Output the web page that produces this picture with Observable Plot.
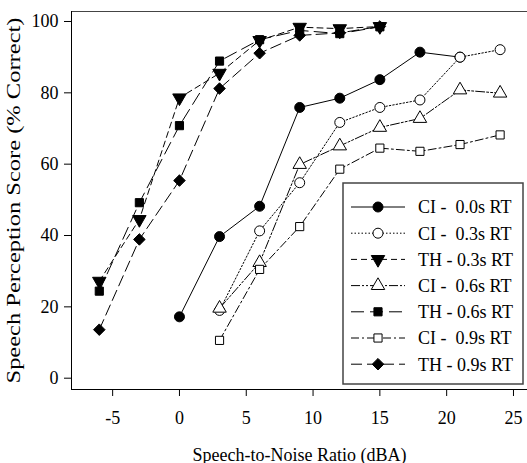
<!DOCTYPE html>
<html><head><meta charset="utf-8">
<script src="https://cdn.jsdelivr.net/npm/d3@7"></script>
<script src="https://cdn.jsdelivr.net/npm/@observablehq/plot@0.6"></script>
<style>
body{margin:0;background:#fff}
</style>
</head><body><div id="chart"></div>
<script>
// ---- data ----
const seriesNames = ["CI -  0.0s RT","CI -  0.3s RT","TH - 0.3s RT","CI -  0.6s RT","TH - 0.6s RT","CI -  0.9s RT","TH - 0.9s RT"];
const snrCI00 = [0,3,6,9,12,15,18,21];
const scoreCI00 = [17.2,39.7,48.2,75.9,78.5,83.7,91.4,90.0];
const snrCI = [3,6,9,12,15,18,21,24];
const scoreCI03 = [19.0,41.3,54.8,71.7,75.9,78.0,90.0,92.1];
const scoreCI06 = [19.6,32.4,59.9,65.1,70.3,72.8,80.8,79.9];
const scoreCI09 = [10.6,30.5,42.5,58.6,64.5,63.6,65.5,68.2];
const snrTH = [-6,-3,0,3,6,9,12,15];
const scoreTH03 = [27.2,44.5,78.6,85.5,94.7,98.4,98.0,98.6];
const scoreTH06 = [24.4,49.2,70.8,88.9,94.9,97.5,96.6,98.5];
const scoreTH09 = [13.6,38.9,55.4,81.2,91.1,96.1,96.8,98.6];
const xTicks = [-5,0,5,10,15,20,25];
const yTicks = [0,20,40,60,80,100];
const xLabel = "Speech-to-Noise Ratio (dBA)";
const yLabel = "Speech Perception Score (% Correct)";

// ---- styles ----
const styles = [
  {dash:null, symbol:"circle", fill:"black", rotate:0, r:5},
  {dash:"1.5,2", symbol:"circle", fill:"white", rotate:0, r:5},
  {dash:"6,4", symbol:"triangle", fill:"black", rotate:180, r:5},
  {dash:"9,2,2,2,2,2", symbol:"triangle", fill:"white", rotate:0, r:5},
  {dash:"13,6", symbol:"square", fill:"black", rotate:0, r:4.6},
  {dash:"8,3,2,3", symbol:"square", fill:"white", rotate:0, r:4.6},
  {dash:"11,5", symbol:"diamond2", fill:"black", rotate:0, r:5.2}
];
const xsList = [snrCI00, snrCI, snrTH, snrCI, snrTH, snrCI, snrTH];
const ysList = [scoreCI00, scoreCI03, scoreTH03, scoreCI06, scoreTH06, scoreCI09, scoreTH09];
const series = seriesNames.map((name,i)=>({name, style:styles[i], rows: xsList[i].map((x,j)=>({x, y: ysList[i][j]}))}));

const marks = [];
for (const s of series) marks.push(Plot.line(s.rows, {x:"x", y:"y", stroke:"black", strokeWidth:1, strokeDasharray:s.style.dash}));
for (const s of series) marks.push(Plot.dot(s.rows, {x:"x", y:"y", symbol:()=>s.style.symbol, r:s.style.r, fill:s.style.fill, stroke:"black", strokeWidth:1, rotate:s.style.rotate}));

const FONT = "'Liberation Serif','Times New Roman',serif";
const plot = Plot.plot({
  width: 527, height: 463,
  marginLeft: 71, marginTop: 11, marginBottom: 74, marginRight: 0,
  x: {domain:[-8.08, 26.05]},
  y: {domain:[-3.17, 102.8]},
  symbol: {type:"identity"},
  marks: [
    Plot.frame({anchor:"top", stroke:"#444"}),
    Plot.frame({anchor:"left", stroke:"black"}),
    Plot.frame({anchor:"bottom", stroke:"black"}),
    Plot.axisX({ticks:xTicks, tickSize:7, tickPadding:15, tickFormat:d=>String(d), label:xLabel, labelAnchor:"center", labelArrow:"none", labelOffset:71}),
    Plot.axisY({ticks:yTicks, tickSize:7, tickPadding:6, label:yLabel, labelAnchor:"center", labelArrow:"none", labelOffset:64}),
    ...marks
  ]
});
document.getElementById("chart").appendChild(plot);
const svg = d3.select(plot);

// ---- legend, drawn inside the plot area ----
const lg = svg.append("g").attr("class","legend").attr("text-anchor","start");
const box = {x:343, y:183, w:180, h:201};
lg.append("rect").attr("x",box.x).attr("y",box.y).attr("width",box.w).attr("height",box.h)
  .attr("fill","white").attr("stroke","#444").attr("stroke-width",1.5);
const symMap = {circle:d3.symbolCircle, triangle:d3.symbolTriangle, square:d3.symbolSquare, diamond2:d3.symbolDiamond2};
series.forEach((s,i)=>{
  const cy = box.y + 24 + i*26.2;
  lg.append("line").attr("x1",box.x+8).attr("x2",box.x+62).attr("y1",cy).attr("y2",cy)
    .attr("stroke","black").attr("stroke-width",1).attr("stroke-dasharray",s.style.dash);
  lg.append("path").attr("d", d3.symbol(symMap[s.style.symbol], Math.PI*s.style.r*s.style.r)())
    .attr("transform",`translate(${box.x+35},${cy}) rotate(${s.style.rotate})`)
    .attr("fill",s.style.fill).attr("stroke","black");
  lg.append("text").attr("x",box.x+75).attr("y",cy).attr("dy","0.35em")
    .style("white-space","pre").text(s.name);
});
svg.selectAll("text").attr("font-family", FONT).style("font-family", FONT).attr("font-size", 18).style("font-size","18px");
svg.select('g[aria-label="y-axis label"] text').attr("textLength", 366).attr("lengthAdjust","spacingAndGlyphs");
</script>
</body></html>
